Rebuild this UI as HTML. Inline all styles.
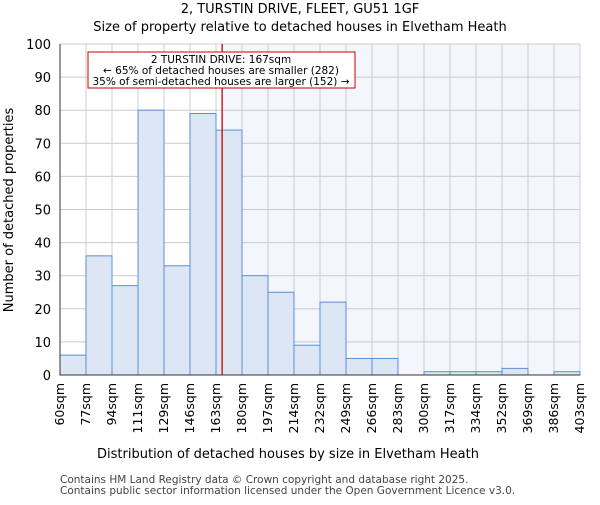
<!DOCTYPE html>
<html><head><meta charset="utf-8"><style>
body{margin:0;background:#fff;}
svg{font-family:"DejaVu Sans","Liberation Sans",sans-serif;}
</style></head><body>
<svg id="chart" width="600" height="500" xmlns="http://www.w3.org/2000/svg">
<text x="300" y="13" text-anchor="middle" font-size="13">2, TURSTIN DRIVE, FLEET, GU51 1GF</text>
<text x="300" y="31" text-anchor="middle" font-size="13">Size of property relative to detached houses in Elvetham Heath</text>
<g id="plot"></g>
<text x="288" y="458" text-anchor="middle" font-size="13">Distribution of detached houses by size in Elvetham Heath</text>
<text transform="translate(13,210) rotate(-90)" text-anchor="middle" font-size="13">Number of detached properties</text>
<text x="60" y="483" font-size="10.5" fill="#444">Contains HM Land Registry data © Crown copyright and database right 2025.</text>
<text x="60" y="494" font-size="10.5" fill="#444">Contains public sector information licensed under the Open Government Licence v3.0.</text>
</svg>
<script>
const binLabels=["60sqm","77sqm","94sqm","111sqm","129sqm","146sqm","163sqm","180sqm","197sqm","214sqm","232sqm","249sqm","266sqm","283sqm","300sqm","317sqm","334sqm","352sqm","369sqm","386sqm","403sqm"];
const binEdges=[60,77,94,111,129,146,163,180,197,214,232,249,266,283,300,317,334,352,369,386,403];
const counts=[6,36,27,80,33,79,74,30,25,9,22,5,5,0,1,1,1,2,0,1];
const yTicks=[0,10,20,30,40,50,60,70,80,90,100];
const subjectSize=167;
const NS="http://www.w3.org/2000/svg";
const L=60,R=580,T=44,B=375,yMax=100;
const nb=counts.length,bw=(R-L)/nb;
function xIdx(i){return L+i*bw;}
function xVal(v){let i=0;while(i<binEdges.length-2&&v>binEdges[i+1])i++;return xIdx(i)+(v-binEdges[i])/(binEdges[i+1]-binEdges[i])*bw;}
function y(v){return B-(v/yMax)*(B-T);}
const g=document.getElementById('plot');
function mk(t,a){const e=document.createElementNS(NS,t);for(const k in a)e.setAttribute(k,a[k]);g.appendChild(e);return e;}
const rx=xVal(subjectSize);
let sh=mk('rect',{x:rx,y:T,width:R-rx,height:B-T,fill:'#f3f6fd'});


yTicks.forEach(t=>{let l=mk('line',{x1:L,x2:R,y1:y(t),y2:y(t),stroke:'#ccc','stroke-width':1});


let tx=mk('text',{x:L-9,y:y(t)+5,'text-anchor':'end','font-size':13});tx.textContent=t;

});
binLabels.forEach((s,i)=>{let x=xIdx(i);let l=mk('line',{x1:x,x2:x,y1:T,y2:B,stroke:'#ccc','stroke-width':1});


let tx=mk('text',{transform:`translate(${x+4},${B+8}) rotate(-90)`,'text-anchor':'end','font-size':12.5});tx.textContent=s;

});
counts.forEach((c,i)=>{if(c<=0)return;let r=mk('rect',{x:xIdx(i),y:y(c),width:bw,height:B-y(c),fill:'#dce6f4',stroke:'#5a8fd6','stroke-width':1});

});
let ax=mk('path',{d:`M${L},${T}V${B}H${R}`,fill:'none',stroke:'#333','stroke-width':1});


let rl=mk('line',{x1:rx,x2:rx,y1:T,y2:B,stroke:'#cc0000','stroke-width':1.3});


let bx=mk('rect',{x:88,y:52,width:267,height:36,fill:'#fff',stroke:'#cc0000','stroke-width':1});


["2 TURSTIN DRIVE: 167sqm","← 65% of detached houses are smaller (282)","35% of semi-detached houses are larger (152) →"].forEach((s,i)=>{let t=mk('text',{x:221,y:63+i*11,'text-anchor':'middle','font-size':10.5});t.textContent=s;

});
</script>
</body></html>
